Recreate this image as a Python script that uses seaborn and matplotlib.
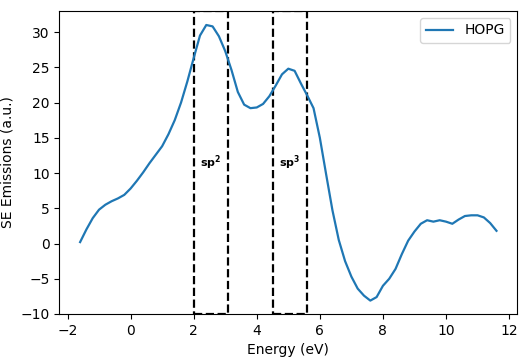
import numpy as np
import pandas as pd
import seaborn as sns
import matplotlib
matplotlib.use('Agg')
from matplotlib import pyplot as plt
from matplotlib.patches import Rectangle

# energy axis (eV) and SE emission
energy = [-1.6, -1.4, -1.2, -1.0, -0.8, -0.6, -0.4, -0.2, 0.0, 0.2,
          0.4, 0.6, 0.8, 1.0, 1.2, 1.4, 1.6, 1.8, 2.0, 2.2,
          2.4, 2.6, 2.8, 3.0, 3.2, 3.4, 3.6, 3.8, 4.0, 4.2,
          4.4, 4.6, 4.8, 5.0, 5.2, 5.4, 5.6, 5.8, 6.0, 6.2,
          6.4, 6.6, 6.8, 7.0, 7.2, 7.4, 7.6, 7.8, 8.0, 8.2,
          8.4, 8.6, 8.8, 9.0, 9.2, 9.4, 9.6, 9.8, 10.0, 10.2,
          10.4, 10.6, 10.8, 11.0, 11.2, 11.4, 11.6]
hopg = [0.2, 2.0, 3.6, 4.8, 5.5, 6.0, 6.4, 6.9, 7.8, 8.9,
        10.1, 11.4, 12.6, 13.8, 15.5, 17.5, 20.0, 23.0, 26.3, 29.5,
        31.0, 30.8, 29.4, 27.3, 24.6, 21.5, 19.7, 19.2, 19.3, 19.8,
        20.9, 22.4, 24.0, 24.8, 24.5, 22.7, 21.0, 19.2, 15.0, 9.8,
        4.7, 0.5, -2.5, -4.7, -6.4, -7.4, -8.1, -7.6, -6.0, -5.0,
        -3.6, -1.5, 0.4, 1.7, 2.8, 3.3, 3.1, 3.3, 3.1, 2.8,
        3.4, 3.9, 4.0, 4.0, 3.7, 2.9, 1.8]

# marked energy windows
regions = ['sp2', 'sp3']
region_start = [2.0, 4.5]
region_end = [3.1, 5.6]
region_labels = [r'$\mathbf{sp^2}$', r'$\mathbf{sp^3}$']

df = pd.DataFrame({'Energy': energy, 'SE': hopg})

fig = plt.figure(figsize=(5.22, 3.63), dpi=100)
ax = fig.add_axes([0.1136, 0.135, 0.8774, 0.835])

sns.lineplot(data=df, x='Energy', y='SE', label='HOPG', color='#1f77b4',
             linewidth=1.6, ax=ax)

y_lo, y_hi = -10, 33
for s, e, lab in zip(region_start, region_end, region_labels):
    ax.add_patch(Rectangle((s, y_lo), e - s, y_hi - y_lo, fill=False,
                           edgecolor='black', linestyle='--', linewidth=1.6))
    ax.text((s + e) / 2, 11.5, lab, ha='center', va='center', fontsize=8)

ax.set_ylim(y_lo, y_hi)
ax.set_xlim(-2.26, 12.26)
ax.set_xlabel('Energy (eV)')
ax.set_ylabel('SE Emissions (a.u.)')
ax.legend(loc='upper right')

fig.savefig('out.png', dpi=100)
